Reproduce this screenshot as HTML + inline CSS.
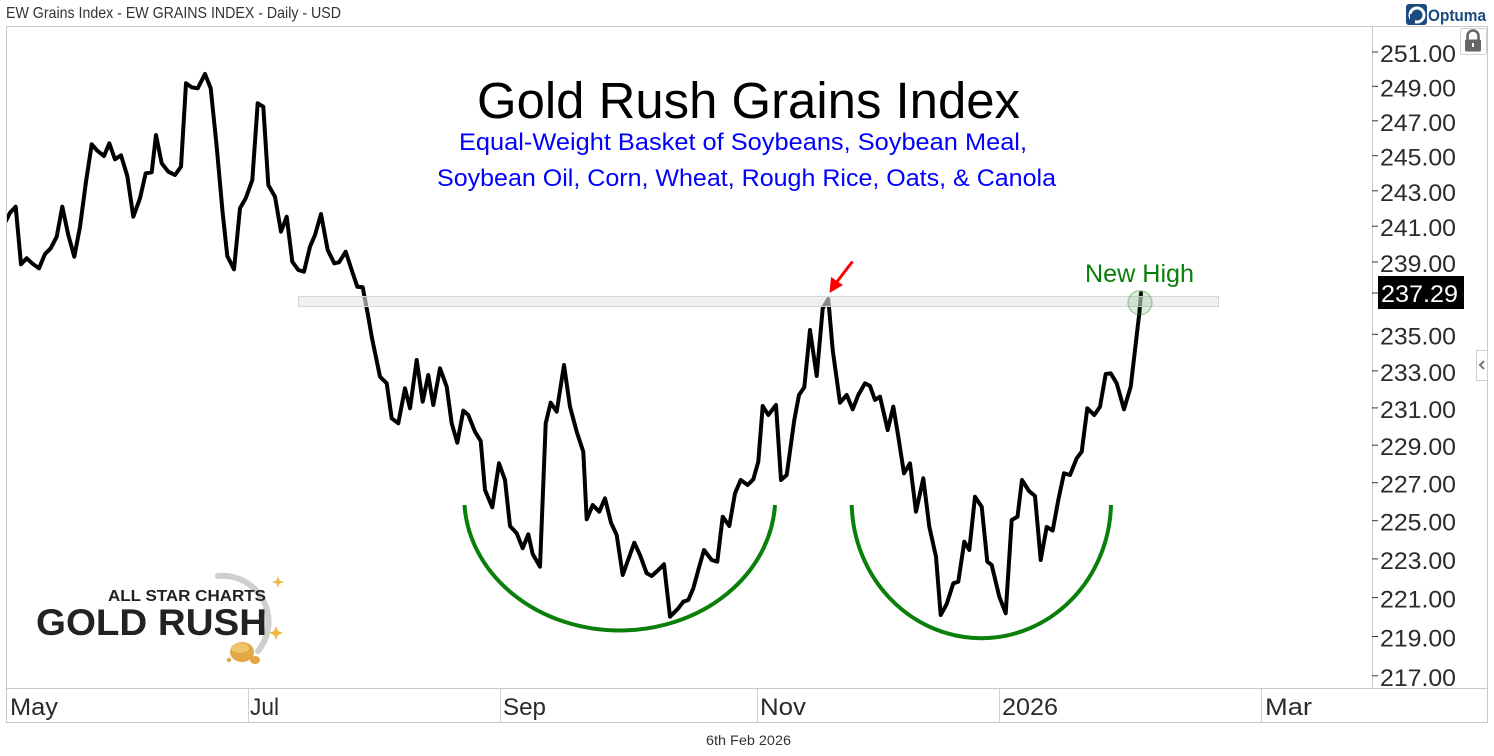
<!DOCTYPE html>
<html>
<head>
<meta charset="utf-8">
<style>
  html, body { margin: 0; padding: 0; background: #ffffff; }
  svg { display: block; }
  text { font-family: "Liberation Sans", "DejaVu Sans", sans-serif; }
</style>
</head>
<body>
<svg width="1494" height="756" viewBox="0 0 1494 756" xmlns="http://www.w3.org/2000/svg">
  <defs>
    <clipPath id="plot">
      <rect x="7" y="27" width="1365" height="661"/>
    </clipPath>
  </defs>

  <!-- header -->
  <text x="6" y="18" font-size="16" fill="#333" textLength="335" lengthAdjust="spacingAndGlyphs">EW Grains Index - EW GRAINS INDEX - Daily - USD</text>

  <!-- Optuma logo -->
  <rect x="1406" y="4" width="21" height="21" rx="3" fill="#1b4a7e"/>
  <circle cx="1417" cy="15" r="7" fill="none" stroke="#fff" stroke-width="3"/>
  <circle cx="1419" cy="16" r="3.2" fill="#1b4a7e"/>
  <rect x="1410" y="14" width="5" height="9" fill="#1b4a7e"/>
  <text x="1428" y="21" font-size="17" font-weight="bold" fill="#1b4a7e" textLength="58" lengthAdjust="spacingAndGlyphs">Optuma</text>

  <!-- frame -->
  <rect x="6.5" y="26.5" width="1481" height="696" fill="none" stroke="#c8c8c8" stroke-width="1"/>
  <line x1="6.5" y1="688.5" x2="1487.5" y2="688.5" stroke="#c8c8c8" stroke-width="1"/>
  <line x1="1372.5" y1="26.5" x2="1372.5" y2="688.5" stroke="#c8c8c8" stroke-width="1"/>

  <!-- date axis separators -->
  <g stroke="#d0d0d0" stroke-width="1">
    <line x1="248.5" y1="689" x2="248.5" y2="722"/>
    <line x1="500.5" y1="689" x2="500.5" y2="722"/>
    <line x1="757.5" y1="689" x2="757.5" y2="722"/>
    <line x1="999.5" y1="689" x2="999.5" y2="722"/>
    <line x1="1261.5" y1="689" x2="1261.5" y2="722"/>
  </g>
  <g font-size="24" fill="#2b2b2b">
    <text x="10" y="715" textLength="48" lengthAdjust="spacingAndGlyphs">May</text>
    <text x="250" y="715" textLength="29" lengthAdjust="spacingAndGlyphs">Jul</text>
    <text x="503" y="715" textLength="43" lengthAdjust="spacingAndGlyphs">Sep</text>
    <text x="760" y="715" textLength="46" lengthAdjust="spacingAndGlyphs">Nov</text>
    <text x="1002" y="715" textLength="56" lengthAdjust="spacingAndGlyphs">2026</text>
    <text x="1265" y="715" textLength="47" lengthAdjust="spacingAndGlyphs">Mar</text>
  </g>
  <text x="706" y="745" font-size="14" fill="#333" textLength="85" lengthAdjust="spacingAndGlyphs">6th Feb 2026</text>

  <!-- price axis ticks and labels -->
  <g stroke="#333" stroke-width="1">
    <line x1="1372" y1="52" x2="1378" y2="52"/>
    <line x1="1372" y1="86.3" x2="1378" y2="86.3"/>
    <line x1="1372" y1="120.8" x2="1378" y2="120.8"/>
    <line x1="1372" y1="155.7" x2="1378" y2="155.7"/>
    <line x1="1372" y1="190.8" x2="1378" y2="190.8"/>
    <line x1="1372" y1="226.2" x2="1378" y2="226.2"/>
    <line x1="1372" y1="262" x2="1378" y2="262"/>
    <line x1="1372" y1="293" x2="1378" y2="293"/>
    <line x1="1372" y1="334.3" x2="1378" y2="334.3"/>
    <line x1="1372" y1="370.9" x2="1378" y2="370.9"/>
    <line x1="1372" y1="407.9" x2="1378" y2="407.9"/>
    <line x1="1372" y1="445.2" x2="1378" y2="445.2"/>
    <line x1="1372" y1="482.7" x2="1378" y2="482.7"/>
    <line x1="1372" y1="520.7" x2="1378" y2="520.7"/>
    <line x1="1372" y1="558.9" x2="1378" y2="558.9"/>
    <line x1="1372" y1="597.6" x2="1378" y2="597.6"/>
    <line x1="1372" y1="636.5" x2="1378" y2="636.5"/>
    <line x1="1372" y1="675.8" x2="1378" y2="675.8"/>
  </g>
  <g font-size="24" fill="#2b2b2b">
    <text x="1380" y="62" textLength="76" lengthAdjust="spacingAndGlyphs">251.00</text>
    <text x="1380" y="96.3" textLength="76" lengthAdjust="spacingAndGlyphs">249.00</text>
    <text x="1380" y="130.8" textLength="76" lengthAdjust="spacingAndGlyphs">247.00</text>
    <text x="1380" y="165.7" textLength="76" lengthAdjust="spacingAndGlyphs">245.00</text>
    <text x="1380" y="200.8" textLength="76" lengthAdjust="spacingAndGlyphs">243.00</text>
    <text x="1380" y="236.2" textLength="76" lengthAdjust="spacingAndGlyphs">241.00</text>
    <text x="1380" y="272" textLength="76" lengthAdjust="spacingAndGlyphs">239.00</text>
    <text x="1380" y="344.3" textLength="76" lengthAdjust="spacingAndGlyphs">235.00</text>
    <text x="1380" y="380.9" textLength="76" lengthAdjust="spacingAndGlyphs">233.00</text>
    <text x="1380" y="417.9" textLength="76" lengthAdjust="spacingAndGlyphs">231.00</text>
    <text x="1380" y="455.2" textLength="76" lengthAdjust="spacingAndGlyphs">229.00</text>
    <text x="1380" y="492.7" textLength="76" lengthAdjust="spacingAndGlyphs">227.00</text>
    <text x="1380" y="530.7" textLength="76" lengthAdjust="spacingAndGlyphs">225.00</text>
    <text x="1380" y="568.9" textLength="76" lengthAdjust="spacingAndGlyphs">223.00</text>
    <text x="1380" y="607.6" textLength="76" lengthAdjust="spacingAndGlyphs">221.00</text>
    <text x="1380" y="646.5" textLength="76" lengthAdjust="spacingAndGlyphs">219.00</text>
    <text x="1380" y="685.8" textLength="76" lengthAdjust="spacingAndGlyphs">217.00</text>
  </g>

  <!-- current price box -->
  <rect x="1378" y="276" width="86" height="33" fill="#000"/>
  <text x="1381" y="302" font-size="24" fill="#fff" textLength="77" lengthAdjust="spacingAndGlyphs">237.29</text>

  <!-- lock icon -->
  <rect x="1460.5" y="28.5" width="26" height="26" rx="2" fill="#fff" stroke="#d0d0d0"/>
  <path d="M1467.5 40 v-4 a5.5 5.5 0 0 1 11 0 v4" fill="none" stroke="#666" stroke-width="2.6"/>
  <rect x="1465" y="39.5" width="16" height="12" rx="1.5" fill="#666"/>
  <rect x="1472" y="43" width="2" height="4" fill="#fff"/>

  <!-- collapse tab -->
  <rect x="1476.5" y="350.5" width="11" height="30" fill="#fff" stroke="#d0d0d0"/>
  <path d="M1484 361 l-4 4 l4 4" fill="none" stroke="#777" stroke-width="2"/>

  <!-- title -->
  <text x="477" y="118" font-size="51" fill="#000" textLength="543" lengthAdjust="spacingAndGlyphs">Gold Rush Grains Index</text>
  <text x="459" y="150" font-size="24" fill="#0000ff" textLength="568" lengthAdjust="spacingAndGlyphs">Equal-Weight Basket of Soybeans, Soybean Meal,</text>
  <text x="437" y="186" font-size="24" fill="#0000ff" textLength="619" lengthAdjust="spacingAndGlyphs">Soybean Oil, Corn, Wheat, Rough Rice, Oats, &amp; Canola</text>

  <!-- green cups -->
  <path d="M464.5 505 A155.5 133 0 0 0 775 505" fill="none" stroke="#0a800a" stroke-width="4"/>
  <path d="M851.7 505 A129.7 137 0 0 0 1111 505" fill="none" stroke="#0a800a" stroke-width="4"/>

  <!-- price line -->
  <g clip-path="url(#plot)">
    <polyline fill="none" stroke="#000" stroke-width="4" stroke-linejoin="round" stroke-linecap="round" points="
3,226 7.3,218.3 10,212.7 15.7,206.7 21,264.3 26.7,258.3 33.3,264.3 39,268.3 45,254 50.7,248.3 56.7,236.7 62.3,206.7 68.3,235 74.3,256.7 80,226.7 86,181.7 91.7,144.3 97.3,150.7 104,156 109.3,143.3 115,159.3 121,155.3 127.3,176 133.3,216.7 140,198.3 145.7,173.3 151.7,172.3 156,135 161.7,163.3 168.3,171.7 175,175 181,166.7 186,83.3 191.7,87.3 197.7,88.3 205,74 210.7,88.3 216.7,146.7 222.7,213.3 227.3,256 234,269.3 240,208.3 245.7,198.3 252.3,180 257.7,103.3 263.3,106.7 268.3,185 275,196.7 281,231.7 286.7,216.7 292.3,261.7 298.3,270 304,271.7 310,246.7 315,235 321,214 327.7,250 334.3,263.3 339,262.3 345.7,251.7 351.7,270 357.3,286.7 362.7,287.3 368.3,316.7 371.7,336.7 380,376.7 386.7,383.3 391.7,418.3 398.3,423.3 405,388.3 410,408.3 416.7,360 422.7,401.7 428.3,375 433.3,405 440,368.3 446.7,386.7 451.7,423.3 457.3,442.7 463.3,410.7 468.3,415 475,431.7 480.7,441 485,490 492.3,507.3 499,463.3 505,480 510,526 516.7,533.3 522.7,548.3 528.3,534.3 532.7,554 540,566.7 545.7,423.3 550.7,402.7 556.7,411.7 564,365 570,406.7 576.7,431.7 583.3,451.7 586.7,519.3 592.7,505 599.3,511.7 605,498.3 611,522.7 616.7,535 622.7,575 634.3,542.7 640,555 646.7,573.3 651.7,576 658.3,570 664,564.3 670,616.7 678.3,608.3 683.3,601.7 688.3,600 693.3,588.3 698.3,570 704,550 711.7,560 717.3,561.7 722.7,516.7 729.3,526 735,493.3 740.7,480 747.7,485 753.3,479.3 758.3,461.7 762.7,406 768.3,415 776,405 781,480 786.7,475 794.3,420 799,395 804.3,387.3 810,330 816.7,376 822.7,308.3 828.3,299 832.7,350 840,402.7 846.7,395 852.7,409.3 858.3,395 865,383.3 870,386 875,400 880,396.7 887.7,430 893.3,406.7 898.3,436.7 904,473.3 910,463.3 916,511.7 923.3,478.3 929.3,526.7 936,556.7 940.7,615 946.7,604 953.3,583.3 958.3,581.7 964.3,541.7 969.3,550 975,496.7 981.7,506.7 987.3,561.7 991.7,565 999.3,596.7 1005.7,613.3 1011.7,520 1017.5,516.7 1022,480 1029,491 1035,496 1040.7,560 1046.7,527 1052.7,530.5 1058.3,500 1064,473.3 1070,475 1076.7,458.3 1081.7,451.7 1087.3,408.3 1094.3,415 1100,406.7 1105.7,374 1110.7,373.3 1116.7,383.3 1124,409.3 1130.7,386.7 1135,350 1139.3,313.3 1141,293.3"/>
  </g>

  <!-- resistance band (translucent over line) -->
  <rect x="298.5" y="296.5" width="920" height="10" fill="rgba(230,230,230,0.6)" stroke="#d6d6d6" stroke-width="1"/>

  <!-- new high circle -->
  <circle cx="1140" cy="302.7" r="12" fill="rgba(0,128,0,0.13)" stroke="rgba(0,128,0,0.3)" stroke-width="1.5"/>
  <text x="1085" y="282" font-size="25" fill="#0a800a" textLength="109" lengthAdjust="spacingAndGlyphs">New High</text>

  <!-- red arrow -->
  <line x1="852.5" y1="261.5" x2="836" y2="283" stroke="#ff0000" stroke-width="3"/>
  <polygon points="829.5,293 831,277 843,285" fill="#ff0000"/>

  <!-- All Star Charts Gold Rush logo -->
  <path d="M218 576 A46 46 0 0 1 258 651" fill="none" stroke="#cfcfcf" stroke-width="6" stroke-linecap="round"/>
  <text x="108" y="601" font-size="16" font-weight="bold" fill="#222" textLength="158" lengthAdjust="spacingAndGlyphs">ALL STAR CHARTS</text>
  <text x="36" y="635" font-size="37" font-weight="bold" fill="#222" textLength="231" lengthAdjust="spacingAndGlyphs">GOLD RUSH</text>
  <ellipse cx="242" cy="652" rx="12" ry="10" fill="#e2a846"/>
  <ellipse cx="240" cy="648" rx="9" ry="5" fill="#f0c46a"/>
  <ellipse cx="255" cy="660" rx="5" ry="4" fill="#e2a846"/>
  <circle cx="229" cy="660" r="2.2" fill="#e2a846"/>
  <path d="M278 576 l1.5 4.5 l4.5 1.5 l-4.5 1.5 l-1.5 4.5 l-1.5 -4.5 l-4.5 -1.5 l4.5 -1.5 z" fill="#f0b840"/>
  <path d="M276 626 l2 5 l5 2 l-5 2 l-2 5 l-2 -5 l-5 -2 l5 -2 z" fill="#f0b840"/>
</svg>
</body>
</html>
